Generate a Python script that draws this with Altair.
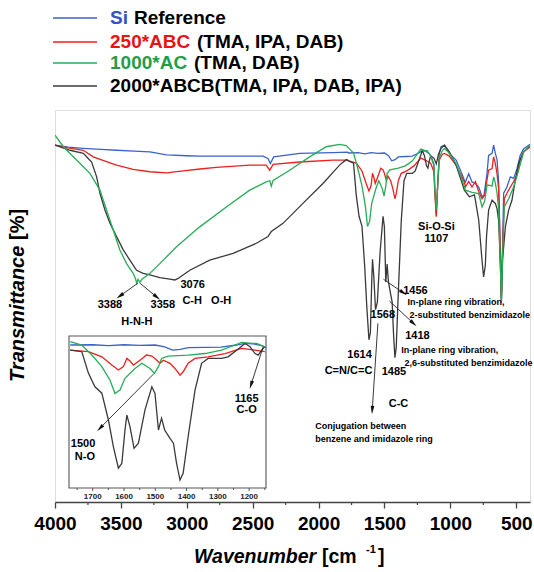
import math
import altair as alt
import pandas as pd

FONT = "Liberation Sans"
W, H = 475, 392

# ---------------- data (wavenumber cm-1, transmittance a.u.) ----------------
BLUE = [(4000, 91.3), (3900, 90.8), (3785, 90.5), (3650, 90.2), (3533, 90.0), (3400, 89.8), (3280, 89.6),
        (3154, 88.8), (3000, 88.6), (2902, 88.5), (2649, 88.5), (2422, 88.5), (2384, 87.9), (2366, 86.6),
        (2341, 88.3), (2144, 89.2), (1892, 89.4), (1780, 89.5), (1772, 89.3), (1700, 89.4), (1650, 89.1),
        (1600, 89.4), (1550, 89.2), (1500, 89.3), (1470, 88.6), (1445, 87.3), (1420, 87.6), (1395, 88.3),
        (1340, 88.4), (1290, 88.5), (1240, 89.3), (1213, 89.9), (1190, 89.8), (1160, 89.1), (1146, 88.3),
        (1125, 86.5), (1118, 80.0), (1107, 73.4), (1098, 80.0), (1085, 89.0), (1071, 90.9), (1045, 91.3),
        (1008, 89.2), (957, 87.5), (919, 84.5), (894, 82.4), (886, 81.9), (861, 84.0), (836, 81.9), (810, 81.5),
        (785, 80.6), (760, 78.1), (745, 78.5), (722, 84.1), (710, 88.7), (684, 89.2), (672, 91.3), (659, 89.2),
        (646, 87.6), (634, 82.0), (622, 65.0), (613, 51.5), (604, 65.0), (596, 79.0), (571, 80.6), (545, 83.2),
        (520, 82.8), (495, 85.2), (470, 88.7), (444, 90.4), (406, 91.3), (396, 91.5)]

RED = [(4000, 91.3), (3900, 90.6), (3785, 90.0), (3710, 88.3), (3620, 87.2), (3533, 86.2), (3407, 85.1),
       (3280, 84.5), (3154, 84.2), (3028, 84.7), (2900, 85.2), (2776, 85.6), (2523, 86.2), (2397, 86.2),
       (2371, 84.9), (2345, 86.4), (2144, 87.0), (1892, 87.5), (1780, 87.5), (1772, 87.3), (1714, 86.7),
       (1671, 84.7), (1639, 81.5), (1618, 79.6), (1602, 80.9), (1591, 84.1), (1580, 83.0), (1570, 81.5),
       (1549, 83.4), (1528, 85.4), (1511, 85.0), (1501, 84.1), (1485, 82.2), (1474, 83.4), (1453, 82.2),
       (1437, 80.2), (1421, 77.6), (1411, 78.9), (1395, 82.2), (1373, 84.1), (1331, 84.7), (1277, 86.0),
       (1224, 88.0), (1181, 87.3), (1150, 86.7), (1125, 84.5), (1118, 79.0), (1107, 73.0), (1098, 80.0),
       (1085, 87.5), (1060, 89.0), (1045, 89.2), (1008, 88.5), (957, 86.2), (919, 83.6), (894, 81.9),
       (886, 80.6), (861, 82.0), (836, 80.6), (810, 82.0), (785, 79.4), (760, 77.6), (740, 78.5), (722, 82.5),
       (710, 84.9), (684, 85.3), (672, 88.3), (659, 86.6), (646, 84.0), (634, 80.0), (622, 65.0), (613, 51.5),
       (604, 65.0), (591, 77.6), (571, 79.0), (545, 80.6), (520, 82.0), (495, 83.6), (470, 87.6), (444, 89.6),
       (406, 90.6), (396, 90.8)]

GREEN = [(4000, 93.9), (3937, 90.9), (3836, 87.5), (3735, 84.1), (3659, 79.8), (3609, 74.7), (3558, 69.6),
         (3508, 64.5), (3457, 61.0), (3407, 58.5), (3388, 57.0), (3380, 56.0), (3370, 57.0), (3356, 56.2),
         (3340, 57.0), (3280, 58.5), (3205, 61.0), (3078, 65.3), (2902, 70.4), (2700, 75.5), (2523, 79.8),
         (2397, 81.9), (2370, 82.2), (2359, 80.8), (2345, 82.3), (2220, 84.9), (2068, 88.3), (1942, 90.9),
         (1841, 91.5), (1790, 91.2), (1772, 90.6), (1735, 89.3), (1703, 85.4), (1671, 80.9), (1645, 75.7),
         (1629, 70.5), (1613, 71.8), (1597, 76.4), (1565, 80.2), (1543, 82.2), (1517, 80.2), (1503, 78.3),
         (1490, 80.9), (1480, 84.1), (1459, 85.0), (1395, 85.4), (1341, 86.0), (1288, 87.3), (1245, 89.3),
         (1224, 90.3), (1192, 89.9), (1176, 89.9), (1150, 88.6), (1125, 86.0), (1118, 80.0), (1107, 74.7),
         (1098, 80.0), (1085, 88.0), (1060, 90.0), (1045, 90.5), (1008, 89.2), (957, 86.6), (919, 83.2),
         (886, 79.8), (836, 79.2), (785, 78.9), (760, 75.5), (740, 77.0), (722, 81.1), (700, 81.0), (684, 80.8),
         (672, 83.2), (659, 81.6), (646, 79.0), (634, 75.0), (622, 62.0), (613, 51.0), (604, 63.0), (591, 75.5),
         (558, 77.6), (520, 80.6), (482, 84.9), (444, 89.6), (406, 90.9), (396, 91.2)]

BLACK = [(4000, 91.3), (3886, 90.0), (3785, 89.2), (3748, 87.9), (3722, 87.0), (3684, 83.2), (3659, 79.0),
         (3621, 74.7), (3583, 71.3), (3533, 67.9), (3482, 64.5), (3432, 61.9), (3381, 59.3), (3331, 58.5),
         (3280, 58.1), (3205, 57.4), (3129, 57.0), (3091, 56.8), (3066, 57.2), (2977, 59.3), (2826, 61.9),
         (2649, 63.6), (2472, 66.2), (2384, 67.9), (2359, 69.2), (2270, 71.3), (2119, 76.4), (1967, 81.5),
         (1841, 86.2), (1790, 87.6), (1772, 87.3), (1735, 86.7), (1714, 78.4), (1693, 73.1), (1671, 70.6),
         (1650, 60.2), (1634, 49.8), (1618, 41.5), (1607, 43.4), (1597, 56.3), (1591, 62.1), (1581, 57.6),
         (1568, 49.2), (1554, 51.2), (1533, 64.1), (1511, 73.1), (1501, 70.5), (1490, 56.3), (1480, 60.9),
         (1470, 56.3), (1453, 53.1), (1442, 51.2), (1432, 43.4), (1421, 36.9), (1411, 39.5), (1395, 53.7),
         (1373, 71.8), (1352, 82.2), (1331, 84.1), (1288, 84.1), (1267, 84.7), (1240, 87.3), (1213, 89.9),
         (1197, 88.6), (1181, 86.0), (1171, 85.4), (1160, 87.3), (1150, 88.6), (1125, 88.0), (1107, 86.5),
         (1090, 89.0), (1071, 90.5), (1045, 91.3), (1008, 89.6), (957, 86.2), (919, 82.4), (894, 79.8),
         (856, 78.1), (818, 78.6), (810, 77.2), (785, 72.1), (760, 61.8), (748, 57.6), (735, 60.5), (726, 67.9),
         (710, 74.7), (684, 77.2), (659, 76.4), (646, 75.0), (634, 72.0), (622, 62.0), (613, 52.0), (604, 62.0),
         (583, 70.4), (558, 74.7), (533, 77.2), (508, 82.3), (482, 86.6), (444, 89.6), (406, 90.9), (396, 91.0)]

SERIES = [("Si Reference", BLUE, "#3a62cc"),
          ("250*ABC", RED, "#f01e1e"),
          ("2000*ABCB", BLACK, "#3a3a3a"),
          ("1000*AC", GREEN, "#27ad57")]

MAJOR_TICKS = [4000, 3500, 3000, 2500, 2000, 1500, 1000, 500]
MINOR_TICKS = [3750, 3250, 2750, 2250, 1750, 1250, 750]
INSET_TICKS = [1700, 1600, 1500, 1400, 1300, 1200]
INSET_MINOR = [1750, 1650, 1550, 1450, 1350, 1250, 1150]

# annotations (label, wavenumber, transmittance, font size)
MAIN_LABELS_C = [("3388", 3583, 50.4, 11), ("3358", 3182, 50.4, 11), ("H-N-H", 3379, 46.0, 11),
                 ("3076", 2955, 55.5, 11), ("C-H\u00a0\u00a0\u00a0O-H", 2848, 51.4, 11), ("Si-O-Si", 1106, 70.3, 11),
                 ("1107", 1106, 67.3, 11), ("1456", 1265, 54.0, 11), ("1568", 1513, 47.8, 11),
                 ("1418", 1250, 42.5, 11), ("1614", 1689, 37.6, 11), ("C=N/C=C", 1773, 33.6, 11),
                 ("1485", 1428, 33.2, 11), ("C-C", 1394, 25.1, 11)]
MAIN_LABELS_L = [("In-plane ring vibration,", 1326, 51.2, 9), ("2-substituted benzimidazole", 1311, 47.8, 9),
                 ("In-plane ring vibration,", 1373, 39.0, 9), ("2,6-substituted benzimidazole", 1348, 35.6, 9),
                 ("Conjugation between", 2025, 19.4, 9), ("benzene and imidazole ring", 2025, 16.0, 9)]
MAIN_ARROWS = [(3371, 56.0, 3508, 52.7), (3356, 56.0, 3227, 52.4), (1508, 57.0, 1356, 53.5),
               (1462, 51.4, 1280, 45.7), (1550, 45.7, 1593, 23.5)]
INSET_LABELS = [("1500", 1731, 51.0, 11), ("N-O", 1725, 46.0, 11), ("1165", 1208, 68.2, 11), ("C-O", 1208, 64.1, 11)]
INSET_ARROWS = [(1506, 78.0, 1677, 57.0), (1155, 88.6, 1194, 73.8)]

# ---------------- scales ----------------
X_DOMAIN = [4000, 396]
Y_DOMAIN = [0, 100.3]
IX_DOMAIN = [1776, 1146]
IY_DOMAIN = [33.8, 92.8]
IX_RANGE = [14, 211]
IY_RANGE = [378, 226]

xs = alt.Scale(domain=X_DOMAIN, nice=False, zero=False)
ys = alt.Scale(domain=Y_DOMAIN, nice=False, zero=False)
ixs = alt.Scale(domain=IX_DOMAIN, range=IX_RANGE, nice=False, zero=False)
iys = alt.Scale(domain=IY_DOMAIN, range=IY_RANGE, nice=False, zero=False)

x_axis = alt.Axis(values=MAJOR_TICKS, format="d", tickSize=6, tickWidth=1.3, tickColor="#444",
                  domainColor="#444", domainWidth=1.5, labelFont=FONT, labelFontSize=19,
                  labelFontWeight="bold", labelColor="black", labelPadding=6, grid=False,
                  title=None, labelFlush=False, orient="bottom")

DUMMY = pd.DataFrame({"a": [0]})
ARROW = "M0,-1L0.45,1L-0.45,1Z"


def ptext(txt, x, y, size, color="black", style="normal", angle=0, align="left"):
    return alt.Chart(DUMMY).mark_text(
        text=txt, font=FONT, fontSize=size, fontWeight="bold", fontStyle=style, color=color,
        align=align, baseline="middle", angle=angle
    ).encode(x=alt.value(x), y=alt.value(y))


def labels(rows, sx, sy, align, ax):
    df = pd.DataFrame(rows, columns=["t", "w", "v", "fs"])
    return alt.Chart(df).mark_text(font=FONT, fontWeight="bold", color="black", align=align,
                                   baseline="middle").encode(
        x=alt.X("w:Q", scale=sx, axis=ax), y=alt.Y("v:Q", scale=sy, axis=None),
        text="t:N", size=alt.Size("fs:Q", scale=None, legend=None))


def arrows(rows, sx, sy, pxu, pyu, ax):
    df = pd.DataFrame(rows, columns=["x1", "y1", "x2", "y2"])
    df["ang"] = [math.degrees(math.atan2((r.x2 - r.x1) * pxu, -(r.y2 - r.y1) * pyu)) % 360
                 for r in df.itertuples()]
    line = alt.Chart(df).mark_rule(color="#222", strokeWidth=0.9).encode(
        x=alt.X("x1:Q", scale=sx, axis=ax), y=alt.Y("y1:Q", scale=sy, axis=None),
        x2="x2:Q", y2="y2:Q")
    head = alt.Chart(df).mark_point(shape=ARROW, filled=True, size=70, color="#111", opacity=1).encode(
        x=alt.X("x2:Q", scale=sx, axis=ax), y=alt.Y("y2:Q", scale=sy, axis=None),
        angle=alt.Angle("ang:Q", scale=None))
    return [line, head]


# ---------------- main panel ----------------
main_layers = []
for name, pts, col in SERIES:
    df = pd.DataFrame(pts, columns=["w", "v"])
    main_layers.append(alt.Chart(df).mark_line(color=col, strokeWidth=1.3, clip=True).encode(
        x=alt.X("w:Q", scale=xs, axis=x_axis),
        y=alt.Y("v:Q", scale=ys, axis=None)))

minor_df = pd.DataFrame({"w": MINOR_TICKS})
main_layers.append(alt.Chart(minor_df).mark_rule(color="#444", strokeWidth=1.2).encode(
    x=alt.X("w:Q", scale=xs, axis=x_axis), y=alt.value(H), y2=alt.value(H + 3)))

main_layers.append(labels(MAIN_LABELS_C, xs, ys, "center", x_axis))
main_layers.append(labels(MAIN_LABELS_L, xs, ys, "left", x_axis))
main_layers += arrows(MAIN_ARROWS, xs, ys,
                      W / (X_DOMAIN[1] - X_DOMAIN[0]), -H / (Y_DOMAIN[1] - Y_DOMAIN[0]), x_axis)

# legend
LEG_Y = [-92, -68, -47, -24]
for (name, pts, col), y in zip([SERIES[0], SERIES[1], SERIES[3], SERIES[2]], LEG_Y):
    main_layers.append(alt.Chart(DUMMY).mark_rule(color=col, strokeWidth=1.5).encode(
        x=alt.value(-2), x2=alt.value(42), y=alt.value(y)))
main_layers += [
    ptext("Si", 55, LEG_Y[0], 19, color="#3355bb"), ptext("Reference", 79, LEG_Y[0], 19),
    ptext("250*ABC", 55, LEG_Y[1], 19, color="#ee1111"), ptext("(TMA, IPA, DAB)", 142, LEG_Y[1], 19),
    ptext("1000*AC", 55, LEG_Y[2], 19, color="#1f9e48"), ptext("(TMA, DAB)", 139, LEG_Y[2], 19),
    ptext("2000*ABCB(TMA, IPA, DAB, IPA)", 55, LEG_Y[3], 19),
]
# axis titles
main_layers += [
    ptext("Wavenumber", 139, 447, 19.5, style="italic"),
    ptext("[cm", 267, 447, 19.5),
    ptext("-1", 311, 440, 11),
    ptext("]", 323, 447, 19.5),
    ptext("Transmittance", -37, 272, 20, style="italic", angle=270),
    ptext("[%]", -37, 130, 20, angle=270),
]
main = alt.layer(*main_layers)

# ---------------- inset panel ----------------
frame_df = pd.DataFrame({"x1": [IX_DOMAIN[0]], "x2": [IX_DOMAIN[1]], "y1": [IY_DOMAIN[0]], "y2": [IY_DOMAIN[1]]})
inset_layers = [alt.Chart(frame_df).mark_rect(fill="white", stroke="#555", strokeWidth=1.1).encode(
    x=alt.X("x1:Q", scale=ixs, axis=None), x2="x2:Q",
    y=alt.Y("y1:Q", scale=iys, axis=None), y2="y2:Q")]
for name, pts, col in SERIES:
    df = pd.DataFrame(pts, columns=["w", "v"])
    df = df[(df.w <= IX_DOMAIN[0]) & (df.w >= IX_DOMAIN[1])]
    inset_layers.append(alt.Chart(df).mark_line(color=col, strokeWidth=1.3).encode(
        x=alt.X("w:Q", scale=ixs, axis=None), y=alt.Y("v:Q", scale=iys, axis=None)))
itick = pd.DataFrame({"w": INSET_TICKS})
iminor = pd.DataFrame({"w": INSET_MINOR})
inset_layers += [
    alt.Chart(itick).mark_rule(color="#555", strokeWidth=1).encode(
        x=alt.X("w:Q", scale=ixs, axis=None), y=alt.value(IY_RANGE[0]), y2=alt.value(IY_RANGE[0] + 3)),
    alt.Chart(iminor).mark_rule(color="#555", strokeWidth=1).encode(
        x=alt.X("w:Q", scale=ixs, axis=None), y=alt.value(IY_RANGE[0]), y2=alt.value(IY_RANGE[0] + 2)),
    alt.Chart(itick).mark_text(font=FONT, fontSize=8, fontWeight="bold", color="#222", baseline="middle").encode(
        x=alt.X("w:Q", scale=ixs, axis=None), y=alt.value(IY_RANGE[0] + 9), text=alt.Text("w:Q", format="d")),
    labels(INSET_LABELS, ixs, iys, "center", None),
]
inset_layers += arrows(INSET_ARROWS, ixs, iys,
                       (IX_RANGE[1] - IX_RANGE[0]) / (IX_DOMAIN[1] - IX_DOMAIN[0]),
                       (IY_RANGE[1] - IY_RANGE[0]) / (IY_DOMAIN[1] - IY_DOMAIN[0]), None)
inset = alt.layer(*inset_layers)

chart = alt.layer(main, inset).resolve_scale(x="independent", y="independent").properties(
    width=W, height=H,
    autosize=alt.AutoSizeParams(type="none"),
    padding={"left": 55, "top": 110, "right": 4, "bottom": 70},
).configure_view(stroke="#444", strokeWidth=1.5).configure(background="white")

chart.save("out.html", embed_options={"renderer": "svg", "actions": False})
